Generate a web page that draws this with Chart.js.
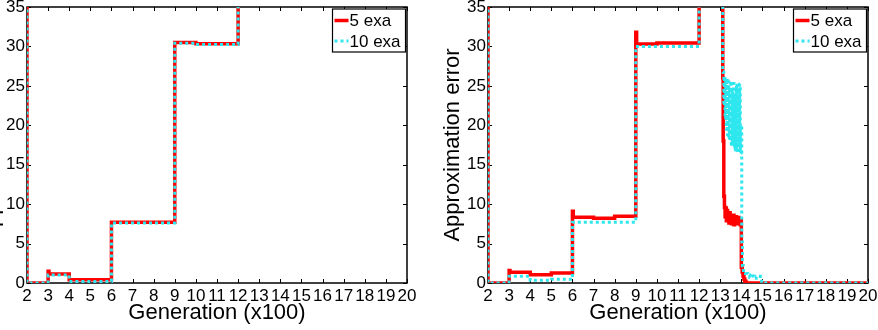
<!DOCTYPE html>
<html>
<head>
<meta charset="utf-8">
<script src="https://cdn.jsdelivr.net/npm/chart.js@4"></script>
<style>
  html, body { margin: 0; padding: 0; background: #fff; }
  body { width: 878px; height: 330px; position: relative; overflow: hidden; }
  .panel { position: absolute; top: 0; width: 440px; height: 330px; }
  #left { left: -23px; }
  #right { left: 438px; }
</style>
</head>
<body>
<div class="panel" id="left"><canvas id="chartLeft" width="440" height="330"></canvas></div>
<div class="panel" id="right"><canvas id="chartRight" width="440" height="330"></canvas></div>
<script>
// generation (x100) and approximation error
// values above 35 are off the top of the plot
const leftRedGen  = [2, 2, 3, 3.04, 4, 6, 9, 10, 12, 20];
const leftRedErr  = [40, 0, 1.5, 1.15, 0.42, 7.7, 30.5, 30.35, 40, 40];
const leftCyanGen = [2, 2, 3, 4, 6, 9, 10, 12, 20];
const leftCyanErr = [40, 0, 1.0, 0.2, 7.6, 30.4, 30.25, 40, 40];

const rightRedGen = [2, 2, 3, 3.04, 4, 5, 6, 6.04, 7, 8, 9, 9.04, 10, 12, 13.12,
  13.14, 13.17, 13.2, 13.23, 13.26, 13.29, 13.32, 13.35, 13.38, 13.41, 13.44, 13.47, 13.5, 13.53, 13.56,
  13.59, 13.62, 13.65, 13.68, 13.71, 13.74, 13.77, 13.8, 13.83, 13.86, 13.89, 13.92, 13.95, 13.98,
  14.0, 14.04, 14.08, 14.12, 14.16, 14.2, 14.24, 20];
const rightRedErr = [40, 0, 1.6, 1.35, 1.05, 1.27, 9.1, 8.35, 8.2, 8.45, 31.8, 30.3, 30.45, 40, 26,
  18, 11, 9.6, 8.4, 9.5, 7.9, 9.2, 8.1, 8.8, 7.6, 8.9, 7.8, 8.5, 7.5, 8.3,
  7.7, 8.6, 7.4, 8.2, 7.8, 8.4, 7.5, 8.1, 7.6, 8.3, 7.9, 8.0, 7.4, 7.9,
  2.0, 1.4, 0.9, 0.5, 0.25, 0.1, 0, 0];

const rightCyanGen = [2, 2, 3, 4, 5, 6, 9, 12, 13.12,
  13.14, 13.17, 13.2, 13.23, 13.26, 13.29, 13.32, 13.35, 13.38, 13.41, 13.44, 13.47, 13.5, 13.53, 13.56,
  13.59, 13.62, 13.65, 13.68, 13.71, 13.74, 13.77, 13.8, 13.83, 13.86, 13.89, 13.92, 13.95, 13.98,
  14.02, 14.05, 14.1, 14.2, 14.3, 14.4, 14.5, 14.6, 14.7, 14.8, 14.9, 14.96, 20];
const rightCyanErr = [40, 0, 0.85, 0.34, 0.47, 7.7, 30.0, 40, 26.8,
  26.7, 22.5, 26.2, 20.8, 25.8, 19.5, 26.0, 18.8, 25.5, 18.2, 24.8, 18.0, 25.6, 17.6, 24.5,
  17.9, 25.3, 17.2, 24.0, 16.6, 25.0, 17.0, 25.4, 16.8, 24.6, 17.4, 25.2, 16.5, 20.0,
  5.2, 2.2, 1.6, 1.2, 1.0, 0.7, 0.9, 0.6, 0.8, 0.85, 0.5, 0, 0];

const seriesNames = ['5 exa', '10 exa'];
const xTicks = [2, 20, 1];   // min, max, step
const yTicks = [0, 35, 5];

const RED = '#ff0000';
const CYAN = '#2ee6ee';
const FONT = '"Liberation Sans", Arial, Helvetica, sans-serif';

function toPoints(gen, err) {
  return gen.map((g, i) => ({ x: g, y: err[i] }));
}

// box round the plot, with matlab-style inward ticks on all four sides
const frameTicks = {
  id: 'frameTicks',
  beforeDatasetsDraw(chart) {
    const { ctx, chartArea: a, scales: { x, y } } = chart;
    ctx.save();
    ctx.strokeStyle = '#000';
    ctx.lineWidth = 1;
    ctx.beginPath();
    x.ticks.forEach(t => {
      const px = Math.round(x.getPixelForValue(t.value)) + 0.5;
      ctx.moveTo(px, a.bottom); ctx.lineTo(px, a.bottom - 4);
      ctx.moveTo(px, a.top); ctx.lineTo(px, a.top + 4);
    });
    y.ticks.forEach(t => {
      const py = Math.round(y.getPixelForValue(t.value)) + 0.5;
      ctx.moveTo(a.left, py); ctx.lineTo(a.left + 4, py);
      ctx.moveTo(a.right, py); ctx.lineTo(a.right - 4, py);
    });
    ctx.stroke();
    ctx.lineWidth = 1.5;
    ctx.strokeRect(a.left, a.top, a.width, a.height);
    ctx.restore();
  }
};

// legend box in the top right corner
const boxLegend = {
  id: 'boxLegend',
  afterDatasetsDraw(chart) {
    const { ctx, chartArea: a } = chart;
    const w = 73, h = 43;
    const bx = a.right - w - 1.5, by = a.top + 2;
    ctx.save();
    ctx.fillStyle = '#fff';
    ctx.fillRect(bx, by, w, h);
    ctx.strokeStyle = '#000';
    ctx.lineWidth = 1.2;
    ctx.strokeRect(bx, by, w, h);
    chart.data.datasets.forEach((ds, i) => {
      const ry = by + 11.5 + i * 20.5;
      ctx.beginPath();
      ctx.strokeStyle = ds.borderColor;
      ctx.lineWidth = ds.borderWidth;
      ctx.setLineDash(ds.borderDash || []);
      ctx.moveTo(bx + 2, ry);
      ctx.lineTo(bx + 16, ry);
      ctx.stroke();
      ctx.setLineDash([]);
      ctx.fillStyle = '#000';
      ctx.font = '17px ' + FONT;
      ctx.textBaseline = 'middle';
      ctx.fillText(ds.label, bx + 17, ry + 1);
    });
    ctx.restore();
  }
};

function zeroPadding(scale) {
  scale.paddingTop = 0; scale.paddingBottom = 0;
  scale.paddingLeft = 0; scale.paddingRight = 0;
}

function makeChart(id, redGen, redErr, cyanGen, cyanErr) {
  return new Chart(document.getElementById(id), {
    type: 'line',
    data: {
      datasets: [{
        label: seriesNames[0],
        data: toPoints(redGen, redErr),
        borderColor: RED,
        borderWidth: 3.5,
        stepped: 'before',
        pointRadius: 0,
        order: 2
      }, {
        label: seriesNames[1],
        data: toPoints(cyanGen, cyanErr),
        borderColor: CYAN,
        borderWidth: 3,
        borderDash: [3, 3],
        stepped: 'before',
        pointRadius: 0,
        order: 1
      }]
    },
    options: {
      responsive: false,
      animation: false,
      devicePixelRatio: 1,
      layout: { padding: { top: 7, right: 10, left: 0, bottom: 0 } },
      plugins: { legend: { display: false }, tooltip: { enabled: false } },
      scales: {
        x: {
          type: 'linear',
          min: xTicks[0], max: xTicks[1],
          grid: { display: false, drawTicks: false, tickLength: 0 },
          border: { display: false },
          ticks: { stepSize: xTicks[2], autoSkip: false, maxRotation: 0, color: '#000',
                   padding: 3, font: { family: FONT, size: 17 } },
          title: { display: true, text: 'Generation (x100)', color: '#000',
                   font: { family: FONT, size: 22, lineHeight: 1 }, padding: { top: 0, bottom: 6 } },
          afterFit(scale) { scale.height = 47; zeroPadding(scale); }
        },
        y: {
          min: yTicks[0], max: yTicks[1],
          grid: { display: false, drawTicks: false, tickLength: 0 },
          border: { display: false },
          ticks: { stepSize: yTicks[2], color: '#000', padding: 2,
                   font: { family: FONT, size: 17 } },
          title: { display: true, text: 'Approximation error', color: '#000',
                   font: { family: FONT, size: 22, lineHeight: 1 }, padding: { top: 4, bottom: 0 } },
          afterFit(scale) { scale.width = 50; zeroPadding(scale); }
        }
      }
    },
    plugins: [frameTicks, boxLegend]
  });
}

makeChart('chartLeft', leftRedGen, leftRedErr, leftCyanGen, leftCyanErr);
makeChart('chartRight', rightRedGen, rightRedErr, rightCyanGen, rightCyanErr);
</script>
</body>
</html>
